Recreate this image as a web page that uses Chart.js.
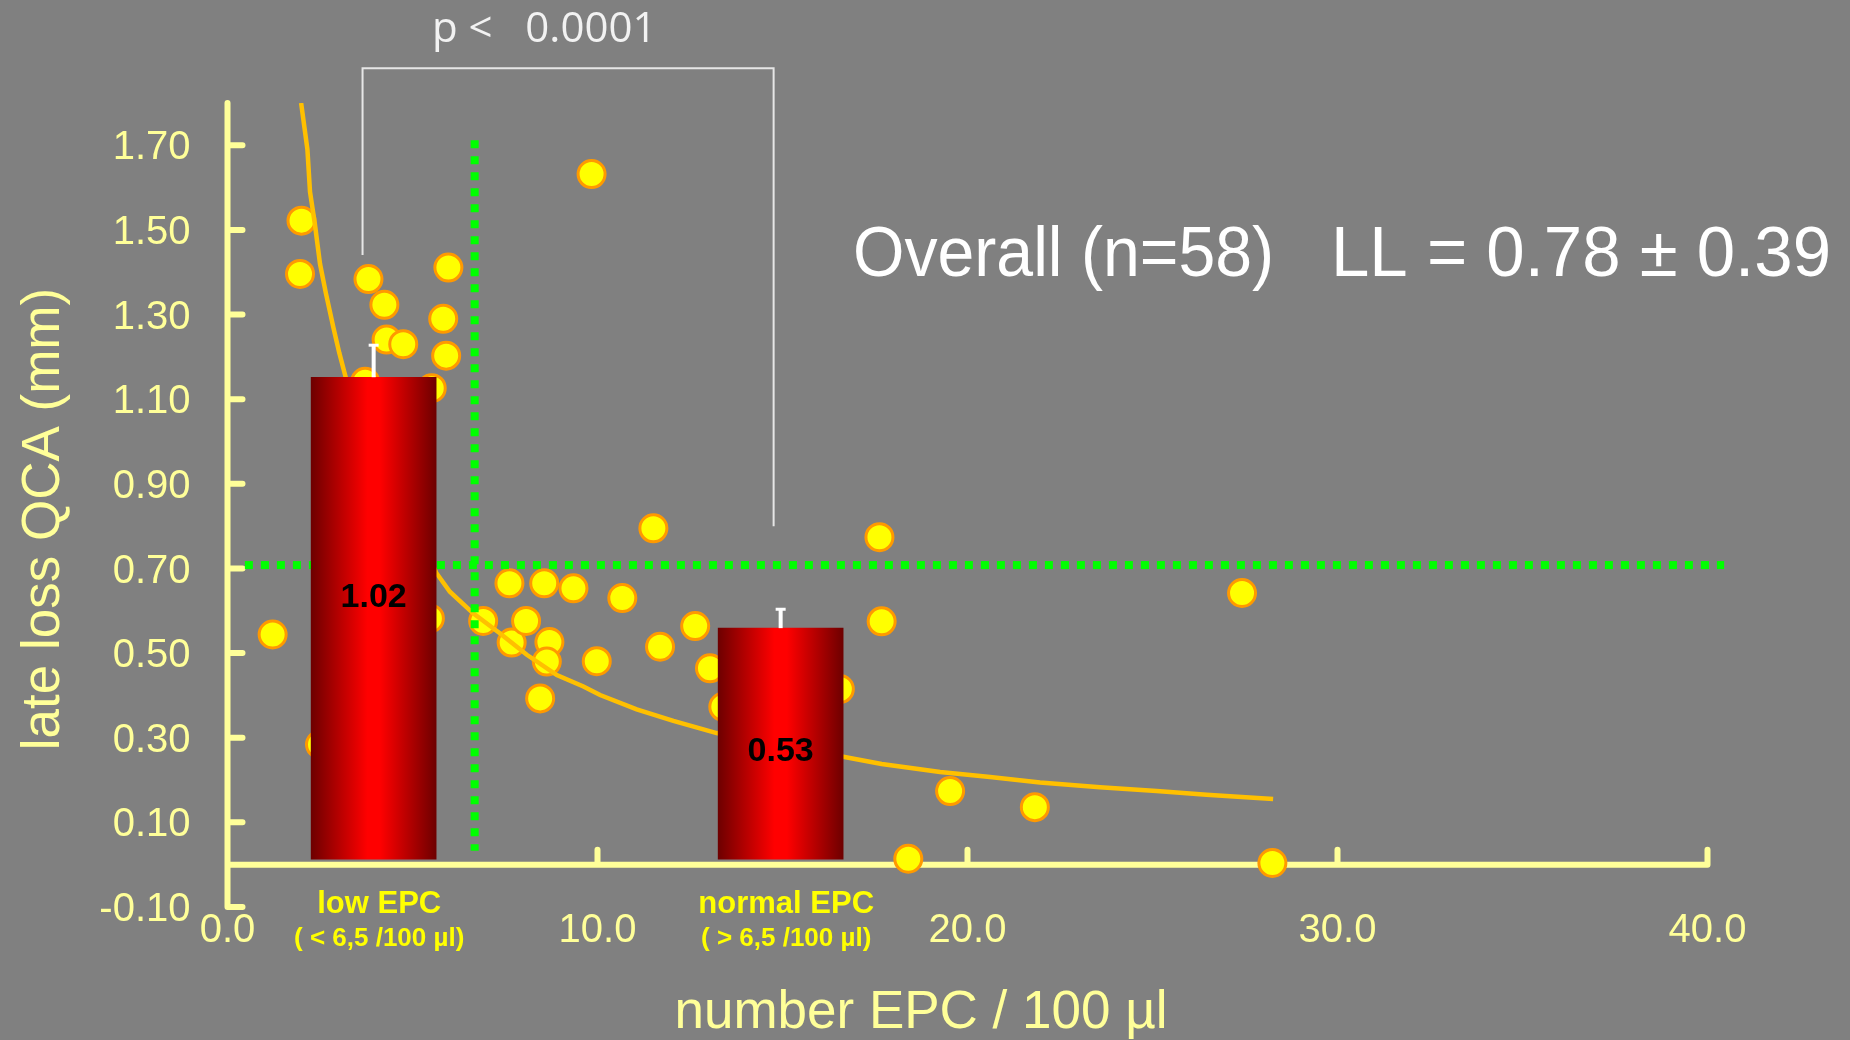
<!DOCTYPE html>
<html>
<head>
<meta charset="utf-8">
<title>late loss QCA vs number EPC</title>
<script src="https://cdn.jsdelivr.net/npm/chart.js@4.4.1/dist/chart.umd.min.js"></script>
<style>
  html, body { margin: 0 ; padding: 0 ; background: #808080 ; }
  #lossChart { display: block ; }
</style>
</head>
<body>
<canvas id="lossChart" width="1850" height="1040"></canvas>
<script>

// ---------------- Chart data ---------------------------------------------
const X_TICKS = [ 0, 10, 20, 30, 40 ] ;
const Y_TICKS = [ -0.10, 0.10, 0.30, 0.50, 0.70, 0.90, 1.10, 1.30, 1.50, 1.70 ] ;

// Visible patients (the rest sit behind the bars)
const EPC_COUNT = [ 1.22, 2.00, 1.96, 2.50, 3.81, 4.24, 4.30, 4.75, 5.97, 5.83,
                    5.91, 5.52, 3.72, 5.47, 6.91, 7.62, 8.56, 9.35, 10.67, 7.68,
                    8.07, 8.70, 8.63, 8.45, 9.98, 9.84, 11.51, 11.69, 12.64, 13.04,
                    13.40, 16.55, 17.62, 17.68, 18.40, 19.53, 21.82, 27.42, 28.24 ] ;
const LATE_LOSS = [ 0.544, 1.522, 1.396, 0.284, 1.384, 1.323, 1.241, 1.230, 1.411, 1.290,
                    1.203, 1.126, 1.141, 0.582, 0.576, 0.665, 0.665, 0.653, 0.630, 0.525,
                    0.576, 0.526, 0.480, 0.393, 0.481, 1.632, 0.795, 0.515, 0.564, 0.464,
                    0.373, 0.415, 0.774, 0.575, 0.014, 0.174, 0.136, 0.642, 0.004 ] ;

// Fit curve
const FIT_EPC  = [ 1.99, 2.16, 2.23, 2.36, 2.50, 2.66, 2.86, 3.02, 3.20, 5.64,
                   6.01, 6.64, 7.36, 8.09, 8.90, 9.62, 10.07, 11.06, 12.05, 13.22,
                   16.64, 17.68, 19.26, 20.61, 21.96, 23.58, 25.11, 26.46, 28.26 ] ;
const FIT_LOSS = [ 1.80, 1.69, 1.59, 1.515, 1.42, 1.35, 1.27, 1.21, 1.15, 0.69,
                   0.645, 0.594, 0.547, 0.496, 0.448, 0.421, 0.401, 0.367, 0.340, 0.311,
                   0.255, 0.238, 0.219, 0.207, 0.194, 0.183, 0.174, 0.165, 0.155 ] ;

// Group bars
const GROUP_NAMES   = [ 'low EPC', 'normal EPC' ] ;
const GROUP_LIMITS  = [ '( < 6,5 /100 µl)', '( > 6,5 /100 µl)' ] ;
const GROUP_EPC     = [ 3.95, 14.95 ] ;
const GROUP_BAR_TOP = [ 1.152, 0.559 ] ;
const GROUP_ERR_TOP = [ 1.230, 0.606 ] ;
const GROUP_MEANS   = [ '1.02', '0.53' ] ;
const GROUP_MEAN_AT = [ 0.608, 0.244 ] ;

// Cut-off lines
const CUTOFF_EPC       = 6.68 ;
const CUTOFF_EPC_SPAN  = [ 0.033, 1.712 ] ;
const CUTOFF_LOSS      = 0.708 ;
const CUTOFF_LOSS_SPAN = [ 0.47, 40.45 ] ;

// ---------------- Styles -------------------------------------------------
const AXIS_COLOR   = '#FFFF99' ;
const POINT_FILL   = '#FFFF00' ;
const POINT_EDGE   = '#FF9900' ;
const FIT_COLOR    = '#FFC000' ;
const CUTOFF_COLOR = '#00FF00' ;
const BAR_DARK     = '#6E0000' ;
const BAR_LIGHT    = '#FF0000' ;
const FONT         = "'Liberation Sans', Arial, sans-serif" ;
const BAR_WIDTH    = 125 ;
const BAR_BASE     = 0.013 ;
const TICK_LEN     = 15 ;

// -------------------------------------------------------------------------
function barGradient( context ) {
    const chart = context.chart ;
    const xScale = chart.scales.x ;
    if( !chart.chartArea || !xScale ) {
        return BAR_LIGHT ;
    }
    const cx = xScale.getPixelForValue( GROUP_EPC[ context.dataIndex ] ) ;
    const g = chart.ctx.createLinearGradient( cx - BAR_WIDTH/2, 0, cx + BAR_WIDTH/2, 0 ) ;
    g.addColorStop( 0,    BAR_DARK ) ;
    g.addColorStop( 0.45, BAR_LIGHT ) ;
    g.addColorStop( 0.55, BAR_LIGHT ) ;
    g.addColorStop( 1,    BAR_DARK ) ;
    return g ;
}

const overlayPlugin = {
    id : 'epcOverlay',

    // axes lines on zero, ticks pointing inward
    beforeDatasetsDraw( chart ) {
        const ctx = chart.ctx ;
        const x = chart.scales.x ;
        const y = chart.scales.y ;
        const x0 = x.getPixelForValue( 0 ) ;
        const y0 = y.getPixelForValue( 0 ) ;

        ctx.save() ;
        ctx.strokeStyle = AXIS_COLOR ;
        ctx.lineWidth   = 6 ;
        ctx.lineCap     = 'round' ;
        ctx.beginPath() ;
        ctx.moveTo( x0, y.getPixelForValue( y.max ) ) ;
        ctx.lineTo( x0, y.getPixelForValue( y.min ) ) ;
        ctx.moveTo( x0, y0 ) ;
        ctx.lineTo( x.getPixelForValue( x.max ), y0 ) ;
        Y_TICKS.forEach( function( v ) {
            const py = y.getPixelForValue( v ) ;
            ctx.moveTo( x0, py ) ;
            ctx.lineTo( x0 + TICK_LEN, py ) ;
        } ) ;
        X_TICKS.forEach( function( v ) {
            if( v === 0 ) { return ; }
            const px = x.getPixelForValue( v ) ;
            ctx.moveTo( px, y0 ) ;
            ctx.lineTo( px, y0 - TICK_LEN ) ;
        } ) ;
        ctx.stroke() ;
        ctx.restore() ;
    },

    // error bars and group means on the bars
    afterDatasetsDraw( chart ) {
        const ctx = chart.ctx ;
        const x = chart.scales.x ;
        const y = chart.scales.y ;

        ctx.save() ;
        ctx.strokeStyle = '#FFFFFF' ;
        for( var i=0; i<GROUP_EPC.length; i++ ) {
            const px  = x.getPixelForValue( GROUP_EPC[i] ) ;
            const top = y.getPixelForValue( GROUP_ERR_TOP[i] ) ;
            ctx.lineWidth = 4 ;
            ctx.beginPath() ;
            ctx.moveTo( px, y.getPixelForValue( GROUP_BAR_TOP[i] ) ) ;
            ctx.lineTo( px, top ) ;
            ctx.stroke() ;
            ctx.lineWidth = 3 ;
            ctx.beginPath() ;
            ctx.moveTo( px - 5, top + 1 ) ;
            ctx.lineTo( px + 5, top + 1 ) ;
            ctx.stroke() ;
        }

        ctx.fillStyle    = '#000000' ;
        ctx.font         = 'bold 34px ' + FONT ;
        ctx.textAlign    = 'center' ;
        ctx.textBaseline = 'alphabetic' ;
        for( var i=0; i<GROUP_EPC.length; i++ ) {
            ctx.fillText( GROUP_MEANS[i], x.getPixelForValue( GROUP_EPC[i] ),
                          y.getPixelForValue( GROUP_MEAN_AT[i] ) ) ;
        }
        ctx.restore() ;
    },

    // titles, group names, p-value bracket and overall text
    afterDraw( chart ) {
        const ctx = chart.ctx ;
        const x = chart.scales.x ;
        const y = chart.scales.y ;
        const y0 = y.getPixelForValue( 0 ) ;

        ctx.save() ;
        ctx.textBaseline = 'alphabetic' ;

        // axis titles
        ctx.fillStyle = AXIS_COLOR ;
        ctx.font      = '53px ' + FONT ;
        ctx.textAlign = 'center' ;
        ctx.fillText( 'number EPC / 100 µl', 921, 1028 ) ;

        ctx.save() ;
        ctx.translate( 59, 519 ) ;
        ctx.rotate( -Math.PI / 2 ) ;
        ctx.fillText( 'late loss QCA (mm)', 0, 0 ) ;
        ctx.restore() ;

        // group names under the bars
        ctx.fillStyle = '#FFFF00' ;
        for( var i=0; i<GROUP_EPC.length; i++ ) {
            const px = x.getPixelForValue( GROUP_EPC[i] + 0.15 ) ;
            ctx.font = 'bold 31px ' + FONT ;
            ctx.fillText( GROUP_NAMES[i], px, y0 + 48 ) ;
            ctx.font = 'bold 26px ' + FONT ;
            ctx.fillText( GROUP_LIMITS[i], px, y0 + 81 ) ;
        }

        // p-value bracket
        ctx.strokeStyle = '#E6E6E6' ;
        ctx.lineWidth   = 2 ;
        const bl = x.getPixelForValue( 3.65 ) ;
        const br = x.getPixelForValue( 14.76 ) ;
        const bt = y.getPixelForValue( 1.882 ) ;
        ctx.beginPath() ;
        ctx.moveTo( bl, y.getPixelForValue( 1.441 ) ) ;
        ctx.lineTo( bl, bt ) ;
        ctx.lineTo( br, bt ) ;
        ctx.lineTo( br, y.getPixelForValue( 0.800 ) ) ;
        ctx.stroke() ;

        ctx.fillStyle = '#F2F2F2' ;
        ctx.textAlign = 'left' ;
        ctx.font      = "42px 'Open Sans', " + FONT ;
        ctx.fillText( 'p <   0.0001', 432, 42 ) ;

        // overall result
        ctx.fillStyle = '#FFFFFF' ;
        ctx.font      = '70px ' + FONT ;
        ctx.fillText( 'Overall (n=58)', 853, 276, 421 ) ;
        ctx.fillText( 'LL = 0.78 ± 0.39', 1331, 276, 500 ) ;

        ctx.restore() ;
    }
} ;

// -------------------------------------------------------------------------
function drawChart() {

    const ctx = document.getElementById( 'lossChart' ) ;

    const data = {
        datasets : [
            {
                type            : 'scatter',
                data            : EPC_COUNT.map( ( e, i ) => ( { x : e, y : LATE_LOSS[i] } ) ),
                backgroundColor : POINT_FILL,
                borderColor     : POINT_EDGE,
                borderWidth     : 3,
                pointRadius     : 13.5,
                order           : 5,
            },
            {
                type            : 'scatter',
                data            : FIT_EPC.map( ( e, i ) => ( { x : e, y : FIT_LOSS[i] } ) ),
                showLine        : true,
                borderColor     : FIT_COLOR,
                borderWidth     : 4.5,
                pointRadius     : 0,
                tension         : 0,
                order           : 4,
            },
            {
                type            : 'scatter',
                data            : [ { x : CUTOFF_EPC, y : CUTOFF_EPC_SPAN[1] },
                                    { x : CUTOFF_EPC, y : CUTOFF_EPC_SPAN[0] } ],
                showLine        : true,
                borderColor     : CUTOFF_COLOR,
                borderWidth     : 8,
                borderDash      : [ 8, 8 ],
                pointRadius     : 0,
                clip            : false,
                order           : 3,
            },
            {
                type            : 'scatter',
                data            : [ { x : CUTOFF_LOSS_SPAN[0], y : CUTOFF_LOSS },
                                    { x : CUTOFF_LOSS_SPAN[1], y : CUTOFF_LOSS } ],
                showLine        : true,
                borderColor     : CUTOFF_COLOR,
                borderWidth     : 8,
                borderDash      : [ 8, 8 ],
                pointRadius     : 0,
                clip            : false,
                order           : 3,
            },
            {
                type            : 'bar',
                data            : GROUP_EPC.map( ( g, i ) => ( { x : g, y : [ BAR_BASE, GROUP_BAR_TOP[i] ] } ) ),
                backgroundColor : barGradient,
                borderWidth     : 0,
                barThickness    : BAR_WIDTH,
                order           : 1,
            },
        ]
    } ;

    const tickFont = { family : FONT, size : 40, lineHeight : 1 } ;

    const options = {
        responsive       : false,
        animation        : false,
        devicePixelRatio : 1,
        events           : [],
        layout : {
            padding : { top : 103, right : 142.5, bottom : 0, left : 0 }
        },
        plugins : {
            legend  : { display : false },
            tooltip : { enabled : false },
        },
        scales : {
            x : {
                type   : 'linear',
                min    : 0,
                max    : 40,
                offset : false,
                grid   : { display : false, drawTicks : false, offset : false },
                border : { display : false },
                afterBuildTicks : function( scale ) {
                    scale.ticks = X_TICKS.map( v => ( { value : v } ) ) ;
                },
                afterFit : function( scale ) {
                    scale.height = 133 ;
                },
                ticks : {
                    color       : AXIS_COLOR,
                    font        : tickFont,
                    padding     : 4,
                    autoSkip    : false,
                    maxRotation : 0,
                    callback    : v => v.toFixed( 1 ),
                }
            },
            y : {
                type   : 'linear',
                min    : -0.1,
                max    : 1.8,
                offset : false,
                grid   : { display : false, drawTicks : false },
                border : { display : false },
                afterBuildTicks : function( scale ) {
                    scale.ticks = Y_TICKS.map( v => ( { value : v } ) ) ;
                },
                afterFit : function( scale ) {
                    scale.width = 227.5 ;
                },
                ticks : {
                    color       : AXIS_COLOR,
                    font        : tickFont,
                    padding     : 37,
                    labelOffset : 3,
                    autoSkip    : false,
                    callback    : v => v.toFixed( 2 ),
                }
            }
        }
    } ;

    new Chart( ctx, {
        type    : 'scatter',
        data    : data,
        options : options,
        plugins : [ overlayPlugin ]
    } ) ;
}

drawChart() ;
</script>
</body>
</html>
